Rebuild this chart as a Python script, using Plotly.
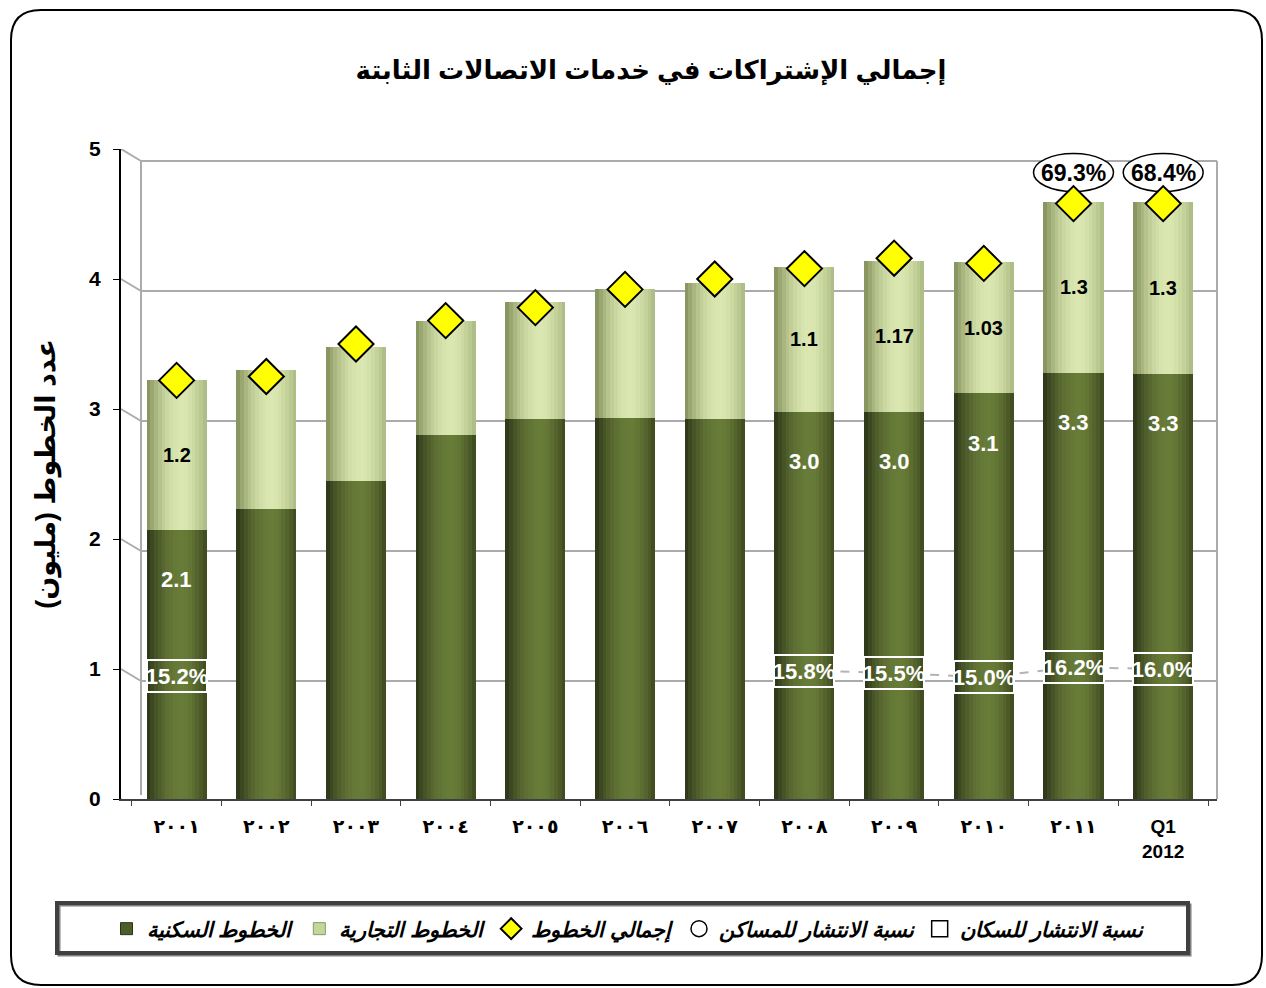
import plotly.graph_objects as go

# ---------------- data ----------------
years = ["٢٠٠١", "٢٠٠٢", "٢٠٠٣", "٢٠٠٤", "٢٠٠٥", "٢٠٠٦", "٢٠٠٧", "٢٠٠٨", "٢٠٠٩", "٢٠١٠", "٢٠١١", "Q1<br>2012"]
residential = [2.07, 2.23, 2.45, 2.80, 2.92, 2.93, 2.92, 2.98, 2.98, 3.12, 3.28, 3.27]
commercial = [1.15, 1.07, 1.03, 0.88, 0.90, 0.99, 1.05, 1.11, 1.16, 1.01, 1.31, 1.32]
total_lines = [3.22, 3.25, 3.50, 3.68, 3.78, 3.92, 4.00, 4.08, 4.16, 4.12, 4.58, 4.58]
res_labels = ["2.1", "", "", "", "", "", "", "3.0", "3.0", "3.1", "3.3", "3.3"]
com_labels = ["1.2", "", "", "", "", "", "", "1.1", "1.17", "1.03", "1.3", "1.3"]
pen_population = [15.2, None, None, None, None, None, None, 15.8, 15.5, 15.0, 16.2, 16.0]
pen_households = [None, None, None, None, None, None, None, None, None, None, 69.3, 68.4]
y_ticks = [0, 1, 2, 3, 4, 5]

title = "إجمالي الإشتراكات في خدمات الاتصالات الثابتة"
y_title = "عدد الخطوط (مليون)"
legend_names = ["الخطوط السكنية", "الخطوط التجارية", "إجمالي الخطوط",
                "نسبة الانتشار للمساكن", "نسبة الانتشار للسكان"]

# ---------------- layout geometry ----------------
W, H = 1266, 988
L, R, T, B = 121, 49, 149, 189
PW, PH = W - L - R, H - T - B
FONT = "Liberation Sans, Arial, DejaVu Sans, sans-serif"


def px(xp):
    return (xp - L) / PW


def py(yp):
    return (T + PH - yp) / PH


def hex2rgb(h):
    h = h.lstrip("#")
    return [int(h[i:i + 2], 16) for i in (0, 2, 4)]


def mix(c1, c2, t):
    a, b = hex2rgb(c1), hex2rgb(c2)
    return "rgb(%d,%d,%d)" % tuple(round(a[i] + (b[i] - a[i]) * t) for i in range(3))


def shade(left, hi, right, t, peak=0.6):
    if t <= peak:
        u = t / peak
        return mix(left, hi, 1 - (1 - u) ** 2)
    u = (t - peak) / (1 - peak)
    return mix(hi, right, u ** 1.6)


fig = go.Figure()

BAR_W = 0.67
NB = 16
bw = BAR_W / NB
com_base = residential
series = [
    (residential, [0] * len(years), ("#2a3318", "#687c38", "#3b481e")),
    (commercial, com_base, ("#808d58", "#dae7b0", "#a9b880")),
]
for vals, base, (cl, ch, cr) in series:
    for i in range(NB):
        t = (i + 0.5) / NB
        fig.add_trace(go.Bar(
            x=years, y=vals, base=base,
            width=bw * 1.08 if i < NB - 1 else bw,
            offset=-BAR_W / 2 + i * bw,
            marker=dict(color=shade(cl, ch, cr, t), line=dict(width=0)),
            showlegend=False, hoverinfo="skip",
        ))

# total lines diamonds
fig.add_trace(go.Scatter(
    x=years, y=total_lines, mode="markers",
    marker=dict(symbol="diamond", size=27, color="#ffff00", line=dict(color="black", width=2)),
    showlegend=False, hoverinfo="skip",
))
# population penetration (secondary axis) invisible anchor trace
fig.add_trace(go.Scatter(
    x=years, y=pen_population, yaxis="y2", mode="markers",
    marker=dict(size=1, color="rgba(0,0,0,0)"), showlegend=False, hoverinfo="skip",
))

# legend-only entries
leg_font = dict(family=FONT, size=21, color="black", weight="bold", style="italic")
fig.add_trace(go.Scatter(x=[None], y=[None], mode="markers", name=legend_names[0],
                         marker=dict(symbol="square", size=12, color="#4d5e28", line=dict(color="#2b3516", width=1))))
fig.add_trace(go.Scatter(x=[None], y=[None], mode="markers", name=legend_names[1],
                         marker=dict(symbol="square", size=12, color="#c5d69a", line=dict(color="#8b9a63", width=1))))
fig.add_trace(go.Scatter(x=[None], y=[None], mode="markers", name=legend_names[2],
                         marker=dict(symbol="diamond", size=28, color="#ffff00", line=dict(color="black", width=2))))
fig.add_trace(go.Scatter(x=[None], y=[None], mode="markers", name=legend_names[3],
                         marker=dict(symbol="circle", size=19, color="white", line=dict(color="black", width=1.5))))
fig.add_trace(go.Scatter(x=[None], y=[None], mode="markers", name=legend_names[4],
                         marker=dict(symbol="square", size=18, color="white", line=dict(color="black", width=1.5))))

shapes = []
annotations = []
WALL_DX = px(141)
GRID = "#ababab"
# back wall gridlines (3D offset)
for v in y_ticks:
    shapes.append(dict(type="line", xref="paper", yref="y", ysizemode="pixel", yanchor=v,
                       x0=WALL_DX, x1=1, y0=-12, y1=-12, layer="below",
                       line=dict(color=GRID, width=2)))
    shapes.append(dict(type="line", xref="paper", yref="y", ysizemode="pixel", yanchor=v,
                       x0=0, x1=WALL_DX, y0=0, y1=-12, layer="below",
                       line=dict(color=GRID, width=2)))
shapes.append(dict(type="line", xref="paper", yref="paper", x0=WALL_DX, x1=WALL_DX,
                   y0=py(795), y1=py(161), layer="below", line=dict(color=GRID, width=2)))
shapes.append(dict(type="line", xref="paper", yref="paper", x0=1, x1=1,
                   y0=py(799), y1=py(161), layer="below", line=dict(color=GRID, width=2)))

# population penetration dashed line (between consecutive known points only)
for i in range(len(years) - 1):
    a, b = pen_population[i], pen_population[i + 1]
    if a is None or b is None:
        continue
    shapes.append(dict(type="line", xref="x", yref="y2", x0=years[i], x1=years[i + 1], y0=a, y1=b,
                       layer="below", line=dict(color="#b4b4b4", width=2, dash="dash")))

# household penetration ellipses
for i, v in enumerate(pen_households):
    if v is None:
        continue
    shapes.append(dict(type="circle", xref="x", yref="y", xsizemode="pixel", ysizemode="pixel",
                       xanchor=years[i], yanchor=total_lines[i], x0=-40, x1=40, y0=12, y1=50,
                       layer="below", line=dict(color="black", width=1.5), fillcolor="white"))
    annotations.append(dict(x=years[i], y=total_lines[i], xref="x", yref="y", yshift=31,
                            text="%.1f%%" % v, showarrow=False,
                            font=dict(family=FONT, size=23, color="black", weight="bold")))

# residential / commercial labels
for i, lab in enumerate(res_labels):
    if lab:
        annotations.append(dict(x=years[i], y=residential[i], xref="x", yref="y", yshift=-50,
                                text=lab, showarrow=False,
                                font=dict(family=FONT, size=22, color="white", weight="bold")))
for i, lab in enumerate(com_labels):
    if lab:
        annotations.append(dict(x=years[i], y=residential[i] + commercial[i] / 2, xref="x", yref="y",
                                text=lab, showarrow=False,
                                font=dict(family=FONT, size=20, color="black", weight="bold")))
# population penetration boxed labels
for i, v in enumerate(pen_population):
    if v is None:
        continue
    annotations.append(dict(x=years[i], y=v, xref="x", yref="y2", text="%.1f%%" % v,
                            showarrow=False, width=58, height=30, borderpad=0,
                            bordercolor="white", borderwidth=2,
                            font=dict(family=FONT, size=22, color="white", weight="bold")))

# outer rounded frame
x0, x1, y0, y1, r = 11, 1262, 10, 985, 30
path = ("M {a},{b} L {c},{b} Q {d},{b} {d},{e} L {d},{f} Q {d},{g} {c},{g} "
        "L {a},{g} Q {h},{g} {h},{f} L {h},{e} Q {h},{b} {a},{b} Z").format(
    a=px(x0 + r), b=py(y0), c=px(x1 - r), d=px(x1), e=py(y0 + r), f=py(y1 - r), g=py(y1), h=px(x0))
shapes.append(dict(type="path", xref="paper", yref="paper", path=path, layer="below",
                   line=dict(color="black", width=2)))
# legend frame
shapes.append(dict(type="rect", xref="paper", yref="paper", x0=px(59), x1=px(1190),
                   y0=py(955), y1=py(905), line=dict(color="#7f7f7f", width=3)))
shapes.append(dict(type="rect", xref="paper", yref="paper", x0=px(57), x1=px(1188),
                   y0=py(953), y1=py(903), line=dict(color="#404040", width=4)))

fig.update_layout(
    width=W, height=H,
    margin=dict(l=L, r=R, t=T, b=B, autoexpand=False),
    paper_bgcolor="white", plot_bgcolor="rgba(0,0,0,0)",
    barmode="overlay", bargap=0,
    title=dict(text=title, x=651 / W, xanchor="center", y=1 - 70 / H, yanchor="middle",
               font=dict(family=FONT, size=26, color="black", weight="bold")),
    xaxis=dict(type="category", range=[-0.62, 11.6], showgrid=False, zeroline=False,
               showline=True, linecolor="#404040", linewidth=2,
               ticks="outside", tickson="boundaries", ticklen=5, tickcolor="#404040",
               ticklabelstandoff=9,
               tickfont=dict(family=FONT, size=19, color="black", weight="bold"),
               fixedrange=True),
    yaxis=dict(range=[0, 5], tickvals=y_ticks, showgrid=False, zeroline=False,
               showline=True, linecolor="black", linewidth=2,
               ticks="outside", ticklen=6, tickcolor="black", ticklabelstandoff=8,
               tickfont=dict(family=FONT, size=21, color="black", weight="bold"),
               title=dict(text=y_title, standoff=26,
                          font=dict(family=FONT, size=27, color="black", weight="bold")),
               automargin=False),
    yaxis2=dict(range=[0, 80], overlaying="y", visible=False),
    showlegend=True,
    legend=dict(orientation="h", x=px(628), xanchor="center", y=py(929), yanchor="middle",
                font=leg_font, bgcolor="rgba(0,0,0,0)", itemwidth=30, traceorder="normal"),
    shapes=shapes, annotations=annotations,
)

fig.write_html("out.html")
